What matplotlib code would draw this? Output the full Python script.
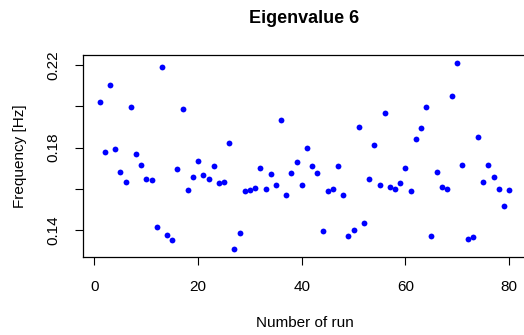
import matplotlib
matplotlib.use("Agg")
import matplotlib.pyplot as plt

runs = list(range(1, 81))
freq = [0.2023, 0.1777, 0.2105, 0.1793, 0.1683, 0.1633, 0.1996, 0.1770, 0.1716, 0.1649,
        0.1641, 0.1416, 0.2191, 0.1376, 0.1353, 0.1695, 0.1989, 0.1594, 0.1656, 0.1735,
        0.1668, 0.1648, 0.1709, 0.1628, 0.1634, 0.1822, 0.1306, 0.1387, 0.1591, 0.1594,
        0.1605, 0.1699, 0.1601, 0.1670, 0.1620, 0.1935, 0.1570, 0.1677, 0.1732, 0.1617,
        0.1797, 0.1711, 0.1678, 0.1395, 0.1591, 0.1601, 0.1709, 0.1570, 0.1372, 0.1398,
        0.1901, 0.1434, 0.1646, 0.1813, 0.1620, 0.1968, 0.1609, 0.1599, 0.1628, 0.1702,
        0.1589, 0.1843, 0.1897, 0.1999, 0.1369, 0.1680, 0.1609, 0.1599, 0.2049, 0.2212,
        0.1716, 0.1358, 0.1366, 0.1853, 0.1634, 0.1716, 0.1656, 0.1598, 0.1517, 0.1596]
xticks = [0, 20, 40, 60, 80]
yticks = [0.14, 0.16, 0.18, 0.20, 0.22]
ytick_labels = ["0.14", "", "0.18", "", "0.22"]

plt.rcParams['font.family'] = ['Liberation Sans', 'DejaVu Sans']

W, H = 524, 335
fig = plt.figure(figsize=(W / 100, H / 100), dpi=100)
left, right, top, bottom = 83.3, 525.5, 55.0, 256.7
ax = fig.add_axes([left / W, (H - bottom) / H, (right - left) / W, (bottom - top) / H])

ax.plot(runs, freq, 'o', color='#0000ff', markersize=4.2, markeredgewidth=0)

ax.set_xlim(-2.16, 83.16)
ax.set_ylim(0.12707, 0.22495)
ax.set_xticks(xticks)
ax.set_yticks(yticks)
ax.set_yticklabels(ytick_labels, rotation=90, va='center')
ax.tick_params(direction='out', length=5.5, width=0.8, labelsize=11, colors='black')
ax.tick_params(axis='x', pad=11)
ax.tick_params(axis='y', pad=11)
for s in ax.spines.values():
    s.set_linewidth(0.9)
    s.set_color('black')

ax.set_title("Eigenvalue 6", fontsize=13, fontweight='bold', pad=23)
ax.set_xlabel("Number of run", fontsize=11, labelpad=16)
ax.set_ylabel("Frequency [Hz]", fontsize=11, labelpad=14)

fig.savefig("out.png", dpi=100)
